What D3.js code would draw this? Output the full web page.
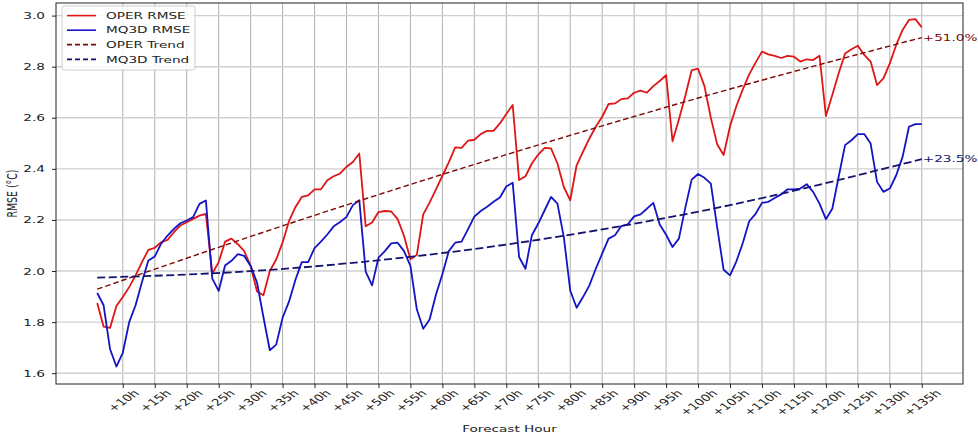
<!DOCTYPE html>
<html>
<head>
<meta charset="utf-8" />
<title>RMSE by forecast hour</title>
<script src="https://cdn.jsdelivr.net/npm/d3@7"></script>
<style>
  body { margin: 0; background: #fff; }
  svg { display: block; font-family: "DejaVu Sans", sans-serif; }
  .tick line { stroke: #222; }
  .domain { display: none; }
</style>
</head>
<body>
<svg id="chart" width="978" height="439"></svg>
<script>
// hourly RMSE, first value is +6h, last is +135h
var firstHour = 6;
var operRmse = [
  1.875, 1.782, 1.777, 1.863, 1.898, 1.937, 1.983, 2.035, 2.083, 2.091,
  2.113, 2.122, 2.152, 2.178, 2.191, 2.204, 2.217, 2.224, 1.990, 2.035,
  2.115, 2.127, 2.105, 2.078, 2.020, 1.920, 1.905, 2.000, 2.045, 2.112,
  2.195, 2.250, 2.290, 2.296, 2.320, 2.320, 2.355, 2.371, 2.382, 2.408,
  2.427, 2.460, 2.175, 2.190, 2.231, 2.235, 2.233, 2.203, 2.137, 2.046,
  2.063, 2.222, 2.268, 2.320, 2.373, 2.425, 2.484, 2.482, 2.510, 2.514,
  2.536, 2.549, 2.549, 2.578, 2.615, 2.650, 2.356, 2.371, 2.421, 2.456,
  2.482, 2.480, 2.421, 2.329, 2.277, 2.414, 2.467, 2.519, 2.565, 2.604,
  2.654, 2.656, 2.673, 2.676, 2.698, 2.706, 2.698, 2.724, 2.744, 2.767,
  2.508, 2.593, 2.685, 2.786, 2.792, 2.724, 2.600, 2.495, 2.454, 2.567,
  2.646, 2.711, 2.770, 2.816, 2.859, 2.848, 2.842, 2.834, 2.842, 2.839,
  2.820, 2.829, 2.826, 2.843, 2.607, 2.689, 2.774, 2.852, 2.868, 2.882,
  2.846, 2.820, 2.728, 2.754, 2.813, 2.885, 2.944, 2.983, 2.986, 2.954
];
var mq3dRmse = [
  1.914, 1.866, 1.695, 1.626, 1.680, 1.800, 1.866, 1.957, 2.041, 2.057,
  2.107, 2.139, 2.165, 2.187, 2.198, 2.211, 2.263, 2.276, 1.970, 1.922,
  2.022, 2.040, 2.066, 2.059, 2.020, 1.955, 1.820, 1.690, 1.712, 1.817,
  1.880, 1.965, 2.035, 2.035, 2.090, 2.115, 2.143, 2.175, 2.192, 2.212,
  2.258, 2.277, 1.998, 1.944, 2.052, 2.078, 2.108, 2.111, 2.078, 2.020,
  1.850, 1.774, 1.810, 1.908, 1.987, 2.078, 2.111, 2.115, 2.163, 2.213,
  2.235, 2.252, 2.271, 2.288, 2.331, 2.346, 2.055, 2.009, 2.140, 2.186,
  2.238, 2.290, 2.264, 2.133, 1.924, 1.856, 1.898, 1.944, 2.009, 2.068,
  2.127, 2.140, 2.176, 2.183, 2.214, 2.222, 2.244, 2.267, 2.182, 2.142,
  2.094, 2.127, 2.247, 2.358, 2.380, 2.365, 2.342, 2.170, 2.005, 1.983,
  2.038, 2.110, 2.195, 2.224, 2.267, 2.271, 2.286, 2.300, 2.320, 2.320,
  2.323, 2.340, 2.310, 2.264, 2.203, 2.244, 2.369, 2.493, 2.512, 2.536,
  2.536, 2.499, 2.349, 2.310, 2.323, 2.375, 2.447, 2.565, 2.575, 2.575
];

// trend curves read at a few hours
var trendHours = [6, 27, 48, 69, 90, 111, 135];
var operTrend = [1.929, 2.110, 2.283, 2.448, 2.605, 2.754, 2.914];
var mq3dTrend = [1.974, 1.995, 2.037, 2.100, 2.185, 2.291, 2.438];
var trendLabels = ["+51.0%", "+23.5%"];

var xTickHours = [10, 15, 20, 25, 30, 35, 40, 45, 50, 55, 60, 65, 70, 75, 80, 85, 90, 95, 100, 105, 110, 115, 120, 125, 130, 135];
var xTickLabels = ["+10h", "+15h", "+20h", "+25h", "+30h", "+35h", "+40h", "+45h", "+50h", "+55h", "+60h", "+65h", "+70h",
  "+75h", "+80h", "+85h", "+90h", "+95h", "+100h", "+105h", "+110h", "+115h", "+120h", "+125h", "+130h", "+135h"];
var yTicks = [1.6, 1.8, 2.0, 2.2, 2.4, 2.6, 2.8, 3.0];
var seriesNames = ["OPER RMSE", "MQ3D RMSE", "OPER Trend", "MQ3D Trend"];

var FS = 9.4;     // font size
var SX = 1.45;    // the picture is stretched sideways, so is the text
var plotL = 56, plotR = 963, plotT = 3, plotB = 384;

var svg = d3.select("#chart");

var x = d3.scaleLinear().domain([-0.45, 141.45]).range([plotL, plotR]);
var y = d3.scaleLinear().domain([1.6, 3.0]).range([373.2, 15.6]);

function pts(vals) {
  return vals.map(function(v, i) { return [firstHour + i, v]; });
}
function tpts(vals) {
  return vals.map(function(v, i) { return [trendHours[i], v]; });
}

// grid
svg.append("g").selectAll("line").data(xTickHours).enter().append("line")
  .attr("x1", d => x(d)).attr("x2", d => x(d))
  .attr("y1", plotT).attr("y2", plotB)
  .attr("stroke", "#b0b0b0").attr("stroke-width", 1);
svg.append("g").selectAll("line").data(yTicks).enter().append("line")
  .attr("x1", plotL).attr("x2", plotR)
  .attr("y1", d => y(d)).attr("y2", d => y(d))
  .attr("stroke", "#cfcfcf").attr("stroke-width", 1.4);

// lines
var line = d3.line().x(d => x(d[0])).y(d => y(d[1]));
var curve = d3.line().x(d => x(d[0])).y(d => y(d[1])).curve(d3.curveNatural);

svg.append("path").datum(pts(operRmse)).attr("d", line)
  .attr("fill", "none").attr("stroke", "#e01616").attr("stroke-width", 1.8).attr("stroke-linejoin", "round");
svg.append("path").datum(pts(mq3dRmse)).attr("d", line)
  .attr("fill", "none").attr("stroke", "#1414c4").attr("stroke-width", 1.8).attr("stroke-linejoin", "round");
svg.append("path").datum(tpts(operTrend)).attr("d", curve)
  .attr("fill", "none").attr("stroke", "#7a0a0a").attr("stroke-width", 1.4).attr("stroke-dasharray", "5.5,3");
svg.append("path").datum(tpts(mq3dTrend)).attr("d", curve)
  .attr("fill", "none").attr("stroke", "#14146e").attr("stroke-width", 1.8).attr("stroke-dasharray", "8,3.5");

// percent labels at trend ends
var ends = [operTrend[operTrend.length - 1], mq3dTrend[mq3dTrend.length - 1]];
var endColors = ["#7a0a0a", "#14146e"];
ends.forEach(function(v, i) {
  svg.append("text")
    .attr("transform", "translate(" + (x(135) + 1) + "," + y(v) + ") scale(" + SX + ",1)")
    .attr("dominant-baseline", "central")
    .style("font-size", FS + "px")
    .attr("fill", endColors[i])
    .text(trendLabels[i]);
});

// axes
var gx = svg.append("g").attr("transform", "translate(0," + plotB + ")")
  .call(d3.axisBottom(x).tickValues(xTickHours).tickSize(4)
    .tickFormat(d => xTickLabels[xTickHours.indexOf(d)]));
gx.selectAll("text").each(function() {
  var t = d3.select(this);
  t.attr("y", null).attr("dy", null).attr("x", null)
    .attr("text-anchor", "middle").attr("dominant-baseline", "central")
    .attr("fill", "#222").style("font-size", FS + "px").style("font-family", "DejaVu Sans");
  var w = this.getComputedTextLength();
  var half = (w + FS * 1.1) / (2 * Math.SQRT2);
  t.attr("transform", "translate(0," + (4 + half) + ") scale(" + SX + ",1) rotate(-45)");
});

var gy = svg.append("g").attr("transform", "translate(" + plotL + ",0)")
  .call(d3.axisLeft(y).tickValues(yTicks).tickSize(4).tickFormat(d3.format(".1f")));
gy.selectAll("text")
  .attr("x", -11 / SX)
  .attr("transform", "scale(" + SX + ",1)")
  .attr("fill", "#222").style("font-size", FS + "px").style("font-family", "DejaVu Sans");

// frame
svg.append("rect").attr("x", plotL).attr("y", plotT)
  .attr("width", plotR - plotL).attr("height", plotB - plotT)
  .attr("fill", "none").attr("stroke", "#222").attr("stroke-width", 1);

// axis titles
svg.append("text")
  .attr("transform", "translate(12," + ((plotT + plotB) / 2) + ") scale(" + SX + ",1) rotate(-90)")
  .attr("text-anchor", "middle").attr("dominant-baseline", "central")
  .style("font-size", FS + "px").attr("fill", "#222")
  .text("RMSE (°C)");
svg.append("text")
  .attr("transform", "translate(" + ((plotL + plotR) / 2) + ",429) scale(" + SX + ",1)")
  .attr("text-anchor", "middle").attr("dominant-baseline", "central")
  .style("font-size", FS + "px").attr("fill", "#222")
  .text("Forecast Hour");

// legend
var legend = svg.append("g");
legend.append("rect").attr("x", 62).attr("y", 6).attr("width", 133).attr("height", 64).attr("rx", 2.5)
  .attr("fill", "#fff").attr("fill-opacity", 0.85).attr("stroke", "#cccccc");
var legColors = ["#e01616", "#1414c4", "#7a0a0a", "#14146e"];
var legDash = [null, null, "5,3", "5,3"];
var rowY = [15.6, 30.2, 44.6, 59.4];
seriesNames.forEach(function(name, i) {
  legend.append("line").attr("x1", 67).attr("x2", 96).attr("y1", rowY[i]).attr("y2", rowY[i])
    .attr("stroke", legColors[i]).attr("stroke-width", 1.6).attr("stroke-dasharray", legDash[i]);
  legend.append("text")
    .attr("transform", "translate(106," + rowY[i] + ") scale(" + SX + ",1)")
    .attr("dominant-baseline", "central")
    .style("font-size", FS + "px").attr("fill", "#222")
    .text(name);
});
</script>
</body>
</html>
